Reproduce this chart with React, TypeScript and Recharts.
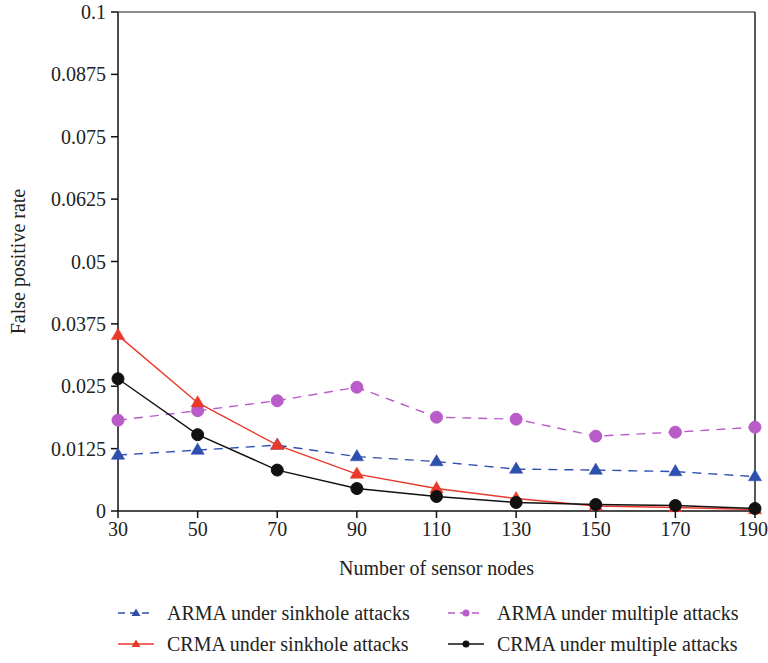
import React from "react";
import { LineChart, Line, XAxis, YAxis, ReferenceLine } from "recharts";

const nodes = [30, 50, 70, 90, 110, 130, 150, 170, 190];
const armaSinkhole = [0.0112, 0.0122, 0.0132, 0.0109, 0.0099, 0.0084, 0.0082, 0.0079, 0.0069];
const armaMultiple = [0.0182, 0.0201, 0.0221, 0.0248, 0.0188, 0.0184, 0.015, 0.0158, 0.0168];
const crmaSinkhole = [0.0352, 0.0217, 0.0132, 0.0074, 0.0045, 0.0025, 0.001, 0.0007, 0.0003];
const crmaMultiple = [0.0265, 0.0153, 0.0082, 0.0045, 0.0029, 0.0017, 0.0013, 0.0011, 0.0005];
const yTicks = [0, 0.0125, 0.025, 0.0375, 0.05, 0.0625, 0.075, 0.0875, 0.1];
const yTickLabels = ["0", "0.0125", "0.025", "0.0375", "0.05", "0.0625", "0.075", "0.0875", "0.1"];
const seriesNames = [
  "ARMA under sinkhole attacks",
  "ARMA under multiple attacks",
  "CRMA under sinkhole attacks",
  "CRMA under multiple attacks",
];

const data = nodes.map((n, i) => ({
  n,
  armaS: armaSinkhole[i],
  armaM: armaMultiple[i],
  crmaS: crmaSinkhole[i],
  crmaM: crmaMultiple[i],
}));

const FONT = "Liberation Serif";
const BLUE = "#2f4fae";
const PURPLE = "#b95cc9";
const RED = "#e8392b";
const BLACK = "#111111";

const triangle = (color: string, s = 7) => (props: any) => {
  const { cx, cy, index } = props;
  if (cx == null || cy == null) return <g key={index} />;
  return (
    <polygon
      key={index}
      points={`${cx},${cy - s} ${cx - s * 0.95},${cy + s * 0.6} ${cx + s * 0.95},${cy + s * 0.6}`}
      fill={color}
      stroke={color}
      strokeWidth={0.5}
    />
  );
};
const circle = (color: string, r = 6) => (props: any) => {
  const { cx, cy, index } = props;
  if (cx == null || cy == null) return <g key={index} />;
  return <circle key={index} cx={cx} cy={cy} r={r} fill={color} stroke={color} />;
};

const YLabel = (props: any) => {
  const vb = props.viewBox || {};
  const cy = vb.y + vb.height / 2;
  return (
    <text
      x={25}
      y={cy}
      transform={`rotate(-90 25 ${cy})`}
      textAnchor="middle"
      fontFamily={FONT}
      fontSize={20}
      fill="#222"
    >
      False positive rate
    </text>
  );
};

const XLabel = (props: any) => {
  const vb = props.viewBox || {};
  const cx = vb.x + vb.width / 2;
  return (
    <text x={cx} y={vb.y + 64} textAnchor="middle" fontFamily={FONT} fontSize={20} fill="#222">
      Number of sensor nodes
    </text>
  );
};

const legendStyles = [
  { color: BLUE, dash: true, shape: "tri" },
  { color: PURPLE, dash: true, shape: "circ" },
  { color: RED, dash: false, shape: "tri" },
  { color: BLACK, dash: false, shape: "circ" },
];

const LegendBlock = () => (
  <div
    style={{
      position: "absolute",
      left: 118,
      top: 601,
      display: "grid",
      gridTemplateColumns: "330px 330px",
      rowGap: 7,
      fontFamily: FONT,
      fontSize: 20,
      color: "#222",
      lineHeight: "24px",
    }}
  >
    {seriesNames.map((name, i) => {
      const st = legendStyles[i];
      return (
        <div key={name} style={{ display: "flex", alignItems: "center", height: 24 }}>
          <svg width={36} height={12} style={{ marginRight: 13 }}>
            <line
              x1={0}
              y1={6}
              x2={36}
              y2={6}
              stroke={st.color}
              strokeWidth={1.5}
              strokeDasharray={st.dash ? "7 5" : undefined}
            />
            {st.shape === "tri" ? (
              <polygon points="18,1.5 13.5,9 22.5,9" fill={st.color} />
            ) : (
              <circle cx={18} cy={6} r={3.5} fill={st.color} />
            )}
          </svg>
          <span>{name}</span>
        </div>
      );
    })}
  </div>
);

export default function App() {
  return (
    <div style={{ position: "absolute", left: 0, top: 0, width: 768, height: 663 }}>
      <LineChart width={768} height={663} data={data} margin={{ top: 12, right: 13, bottom: 0, left: 0 }}>
        <XAxis
          dataKey="n"
          type="number"
          domain={[30, 190]}
          ticks={nodes}
          height={152}
          stroke="#111"
          strokeWidth={1.5}
          tickSize={7}
          tick={{ fontFamily: FONT, fontSize: 20, fill: "#222" }}
          tickMargin={4}
          label={<XLabel />}
        />
        <YAxis
          type="number"
          domain={[0, 0.1]}
          ticks={yTicks}
          width={118}
          stroke="#111"
          strokeWidth={1.5}
          tickSize={7}
          tickMargin={5}
          tick={{ fontFamily: FONT, fontSize: 20, fill: "#222" }}
          tickFormatter={(v: number) => yTickLabels[yTicks.indexOf(v)] ?? String(v)}
          label={<YLabel />}
        />
        <ReferenceLine y={0.1} stroke="#666" strokeWidth={1.5} />
        <ReferenceLine x={190} stroke="#222" strokeWidth={1.5} />
        <Line
          dataKey="armaS"
          stroke={BLUE}
          strokeWidth={1.4}
          strokeDasharray="9 7"
          dot={triangle(BLUE)}
          isAnimationActive={false}
        />
        <Line
          dataKey="armaM"
          stroke={PURPLE}
          strokeWidth={1.4}
          strokeDasharray="9 7"
          dot={circle(PURPLE)}
          isAnimationActive={false}
        />
        <Line
          dataKey="crmaS"
          stroke={RED}
          strokeWidth={1.4}
          dot={triangle(RED)}
          isAnimationActive={false}
        />
        <Line
          dataKey="crmaM"
          stroke={BLACK}
          strokeWidth={1.4}
          dot={circle(BLACK)}
          isAnimationActive={false}
        />
      </LineChart>
      <LegendBlock />
    </div>
  );
}
